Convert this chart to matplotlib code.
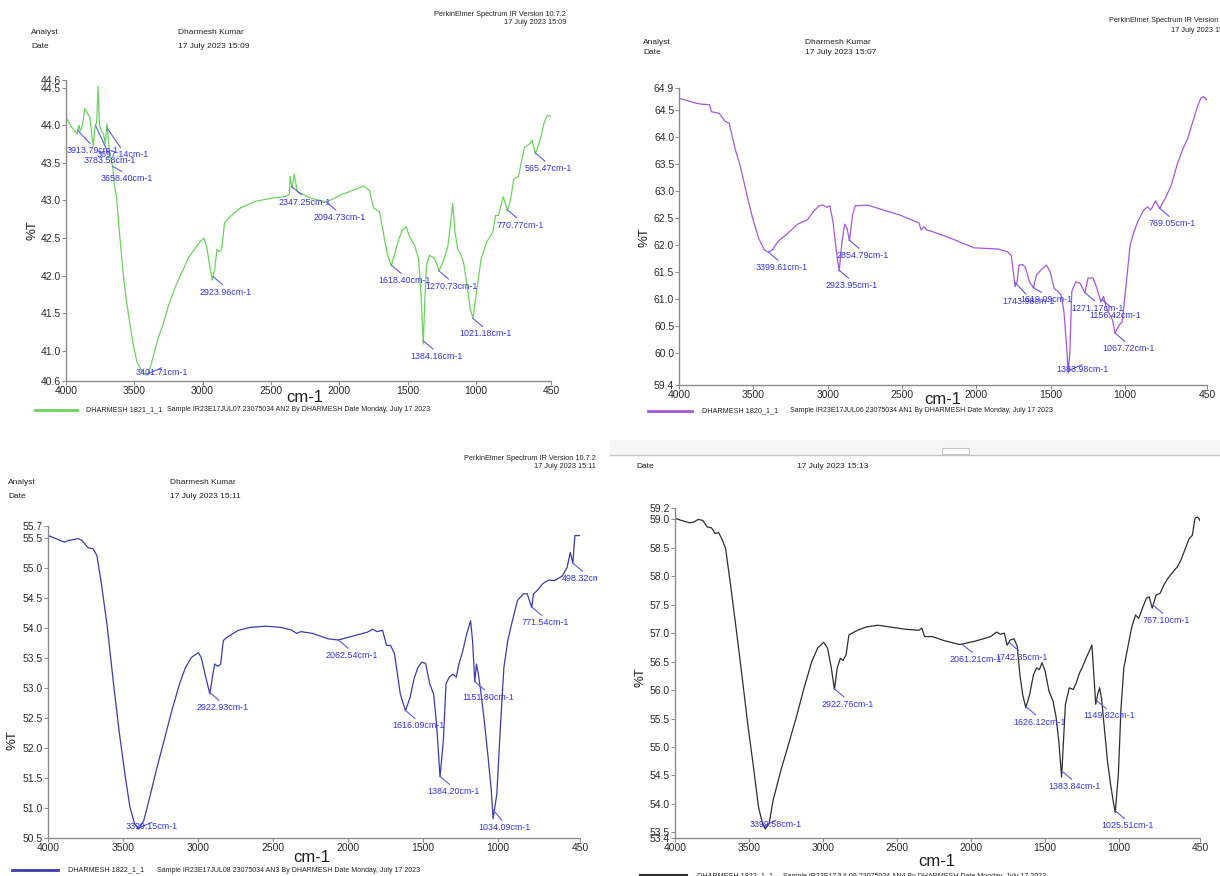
import numpy as np
import matplotlib.pyplot as plt
from matplotlib.lines import Line2D
from matplotlib.patches import Rectangle
from matplotlib.transforms import Bbox, TransformedBbox

plt.rcParams['font.family'] = ['Liberation Sans Narrow', 'Liberation Sans', 'DejaVu Sans']

W, H = 1220, 876

xticks = [4000, 3500, 3000, 2500, 2000, 1500, 1000, 450]

# sample AN2 (1821)
wn1 = [4000, 3960, 3920, 3905, 3895, 3880, 3862, 3840, 3825, 3810, 3800, 3790, 3775, 3765,
       3755, 3740, 3725, 3713, 3700, 3690, 3680, 3665, 3658, 3645, 3630, 3615, 3600, 3580,
       3560, 3540, 3510, 3480, 3450, 3430, 3410, 3400, 3380, 3350, 3320, 3290, 3250, 3200,
       3150, 3100, 3060, 3020, 2990, 2970, 2950, 2930, 2910, 2895, 2880, 2860, 2840, 2800,
       2724, 2608, 2495, 2400, 2365, 2360, 2345, 2330, 2308, 2208, 2093, 1978, 1864, 1821,
       1778, 1749, 1706, 1680, 1650, 1620, 1600, 1570, 1540, 1511, 1480, 1448, 1419, 1400,
       1385, 1375, 1362, 1340, 1310, 1290, 1270, 1250, 1232, 1204, 1185, 1170, 1153, 1133,
       1118, 1090, 1067, 1040, 1021, 1000, 962, 920, 876, 856, 834, 800, 768, 744, 723,
       688, 645, 608, 589, 564, 530, 502, 478, 450]
t1 = [44.10, 43.98, 43.88, 44.00, 43.92, 44.00, 44.22, 44.15, 44.10, 43.85, 43.72, 43.95,
      44.05, 44.52, 44.00, 43.92, 43.88, 43.75, 44.02, 43.80, 43.60, 43.50, 43.45, 43.20,
      43.05, 42.70, 42.40, 42.00, 41.70, 41.45, 41.10, 40.85, 40.75, 40.70, 40.68, 40.70,
      40.80, 41.00, 41.20, 41.35, 41.60, 41.85, 42.05, 42.25, 42.35, 42.45, 42.50, 42.38,
      42.15, 41.94, 42.10, 42.35, 42.32, 42.35, 42.70, 42.78, 42.90, 42.99, 43.03, 43.05,
      43.08, 43.32, 43.16, 43.35, 43.12, 43.03, 42.98, 43.08, 43.16, 43.19, 43.13, 42.90,
      42.85, 42.60, 42.30, 42.13, 42.25, 42.45, 42.60, 42.65, 42.50, 42.40, 42.22, 41.70,
      41.09, 41.60, 42.13, 42.27, 42.24, 42.18, 42.06, 42.15, 42.22, 42.40, 42.70, 42.96,
      42.58, 42.36, 42.31, 42.18, 41.90, 41.55, 41.43, 41.72, 42.22, 42.45, 42.58, 42.80,
      42.80, 43.05, 42.86, 43.03, 43.28, 43.32, 43.70, 43.75, 43.80, 43.62, 43.80, 44.02,
      44.13, 44.12]
peaks1 = ['3913.79', '3783.58', '3697.14', '3658.40', '3401.71', '2923.96', '2347.25',
          '2094.73', '1618.40', '1384.16', '1270.73', '1021.18', '770.77', '565.47']

# sample AN1 (1820)
wn2 = [4000, 3887, 3847, 3795, 3781, 3729, 3689, 3663, 3623, 3584, 3544, 3505, 3465, 3426,
       3400, 3373, 3334, 3281, 3202, 3136, 3097, 3057, 3031, 3005, 2986, 2965, 2939, 2923,
       2904, 2886, 2870, 2854, 2833, 2815, 2729, 2649, 2517, 2386, 2372, 2354, 2333, 2306,
       2175, 2017, 1859, 1793, 1766, 1740, 1727, 1714, 1688, 1669, 1643, 1617, 1596, 1556,
       1530, 1504, 1478, 1452, 1431, 1412, 1393, 1383, 1372, 1359, 1333, 1302, 1281, 1271,
       1250, 1216, 1190, 1164, 1146, 1125, 1085, 1068, 1041, 1020, 994, 967, 941, 915, 875,
       849, 828, 796, 770, 730, 690, 651, 611, 579, 545, 518, 492, 473, 450]
t2 = [64.71, 64.62, 64.60, 64.59, 64.46, 64.43, 64.28, 64.25, 63.78, 63.41, 62.92, 62.49,
      62.12, 61.90, 61.86, 61.90, 62.06, 62.18, 62.38, 62.46, 62.61, 62.72, 62.73, 62.69,
      62.72, 62.43, 61.81, 61.51, 62.06, 62.38, 62.30, 62.07, 62.55, 62.72, 62.73, 62.66,
      62.55, 62.40, 62.27, 62.33, 62.27, 62.25, 62.12, 61.94, 61.92, 61.87, 61.80, 61.22,
      61.31, 61.62, 61.63, 61.56, 61.31, 61.20, 61.44, 61.56, 61.62, 61.50, 61.19, 61.13,
      61.07, 60.76, 60.08, 59.62, 60.02, 61.13, 61.31, 61.28, 61.16, 61.11, 61.38, 61.38,
      61.19, 60.94, 61.04, 60.82, 60.60, 60.36, 60.51, 60.57, 61.25, 61.99, 62.24, 62.43,
      62.64, 62.70, 62.64, 62.81, 62.67, 62.86, 63.10, 63.48, 63.78, 63.97, 64.28, 64.52,
      64.71, 64.74, 64.68]
peaks2 = ['3399.61', '2923.95', '2854.79', '1743.98', '1619.09', '1383.98', '1271.17',
          '1156.42', '1067.72', '769.05']

# sample AN3 (1822)
wn3 = [4000, 3956, 3890, 3864, 3838, 3799, 3773, 3734, 3700, 3674, 3643, 3604, 3565, 3526,
       3487, 3453, 3421, 3395, 3361, 3330, 3278, 3226, 3174, 3122, 3083, 3043, 2997, 2978,
       2952, 2920, 2900, 2887, 2866, 2848, 2830, 2809, 2731, 2652, 2548, 2444, 2379, 2340,
       2313, 2235, 2131, 2062, 1975, 1870, 1831, 1806, 1767, 1741, 1714, 1688, 1649, 1615,
       1584, 1558, 1532, 1506, 1480, 1453, 1427, 1407, 1384, 1362, 1344, 1323, 1297, 1276,
       1258, 1232, 1206, 1180, 1167, 1152, 1141, 1128, 1110, 1089, 1063, 1042, 1030, 1005,
       984, 958, 932, 906, 867, 828, 802, 772, 760, 737, 698, 658, 619, 567, 536, 515, 498,
       484, 450]
t3 = [55.54, 55.50, 55.43, 55.46, 55.47, 55.49, 55.46, 55.34, 55.32, 55.21, 54.73, 54.01,
      53.12, 52.29, 51.57, 51.01, 50.73, 50.65, 50.79, 51.09, 51.62, 52.12, 52.62, 53.07,
      53.34, 53.51, 53.59, 53.51, 53.23, 52.90, 53.23, 53.40, 53.36, 53.40, 53.79, 53.84,
      53.96, 54.01, 54.03, 54.01, 53.97, 53.91, 53.94, 53.91, 53.82, 53.80, 53.86, 53.93,
      53.98, 53.94, 53.96, 53.71, 53.71, 53.57, 52.90, 52.62, 52.84, 53.15, 53.34, 53.43,
      53.41, 53.07, 52.90, 52.40, 51.52, 52.12, 53.07, 53.18, 53.23, 53.18, 53.40, 53.62,
      53.90, 54.12, 53.79, 53.10, 53.40, 53.23, 52.90, 52.46, 51.84, 51.29, 50.82, 51.23,
      52.23, 53.34, 53.79, 54.07, 54.46, 54.57, 54.57, 54.34, 54.57, 54.62, 54.74, 54.80,
      54.79, 54.87, 55.01, 55.26, 55.08, 55.54, 55.54]
peaks3 = ['3399.15', '2922.93', '2062.54', '1616.09', '1384.20', '1151.80', '1034.09',
          '771.54', '498.32']

# sample AN4 (1823)
wn4 = [4000, 3955, 3903, 3876, 3842, 3811, 3784, 3753, 3727, 3705, 3679, 3658, 3627, 3587,
       3548, 3508, 3469, 3435, 3408, 3390, 3364, 3337, 3285, 3232, 3180, 3127, 3074, 3035,
       2995, 2969, 2943, 2922, 2903, 2882, 2864, 2843, 2824, 2759, 2706, 2627, 2549, 2444,
       2352, 2331, 2312, 2260, 2181, 2075, 1970, 1865, 1826, 1799, 1773, 1754, 1733, 1707,
       1686, 1668, 1649, 1628, 1602, 1576, 1555, 1536, 1518, 1497, 1471, 1444, 1423, 1405,
       1386, 1373, 1360, 1334, 1307, 1286, 1265, 1247, 1221, 1194, 1181, 1168, 1155, 1142,
       1129, 1116, 1097, 1076, 1055, 1034, 1023, 1002, 984, 965, 939, 913, 886, 865, 839,
       813, 794, 773, 747, 720, 694, 668, 641, 602, 575, 549, 523, 502, 484, 465, 450]
t4 = [59.02, 58.98, 58.94, 58.95, 59.00, 58.98, 58.87, 58.85, 58.75, 58.77, 58.63, 58.49,
      57.90, 57.09, 56.27, 55.40, 54.64, 53.94, 53.65, 53.56, 53.65, 54.06, 54.58, 55.05,
      55.52, 56.04, 56.51, 56.74, 56.84, 56.74, 56.39, 56.01, 56.39, 56.56, 56.52, 56.62,
      56.97, 57.06, 57.11, 57.14, 57.11, 57.07, 57.05, 57.09, 56.94, 56.94, 56.87, 56.80,
      56.86, 56.94, 57.02, 56.98, 57.00, 56.79, 56.88, 56.90, 56.77, 56.27, 55.92, 55.69,
      55.92, 56.27, 56.39, 56.36, 56.48, 56.33, 55.98, 55.81, 55.52, 55.11, 54.47, 55.11,
      55.75, 56.04, 56.01, 56.13, 56.30, 56.39, 56.56, 56.71, 56.79, 56.27, 55.75, 55.92,
      56.04, 55.86, 55.34, 54.76, 54.35, 54.00, 53.85, 54.52, 55.69, 56.39, 56.74, 57.09,
      57.32, 57.26, 57.44, 57.61, 57.64, 57.44, 57.67, 57.70, 57.85, 57.96, 58.05, 58.17,
      58.31, 58.49, 58.66, 58.72, 59.02, 59.04, 58.98]
peaks4 = ['3399.58', '2922.76', '2061.21', '1742.35', '1626.12', '1383.84', '1149.82',
          '1025.51', '767.10']

yt1 = [40.6, 41.0, 41.5, 42.0, 42.5, 43.0, 43.5, 44.0, 44.5, 44.6]
yt2 = [59.4, 60.0, 60.5, 61.0, 61.5, 62.0, 62.5, 63.0, 63.5, 64.0, 64.5, 64.9]
yt3 = [50.5, 51.0, 51.5, 52.0, 52.5, 53.0, 53.5, 54.0, 54.5, 55.0, 55.5, 55.7]
yt4 = [53.4, 53.5, 54.0, 54.5, 55.0, 55.5, 56.0, 56.5, 57.0, 57.5, 58.0, 58.5, 59.0, 59.2]

fig = plt.figure(figsize=(12.2, 8.76), dpi=100)


def fx(x):
    return x / W


def fy(y):
    return 1 - y / H


def panel(box, wn, t, color, yt, peaks, offs, clip_x=None):
    l, tp, r, b = box
    ax = fig.add_axes([fx(l), fy(b), (r - l) / W, (b - tp) / H])
    ax.patch.set_alpha(0)
    ax.plot(wn, t, color=color, lw=0.9)
    ax.set_xlim(4000, 450)
    ax.set_ylim(yt[0], yt[-1])
    ax.set_xticks(xticks)
    ax.set_xticklabels([str(x) for x in xticks])
    ax.set_yticks(yt)
    ax.set_yticklabels(['%.1f' % v for v in yt])
    for s in ['top', 'right']:
        ax.spines[s].set_visible(False)
    for s in ['left', 'bottom']:
        ax.spines[s].set_color('#8a8a8a')
        ax.spines[s].set_linewidth(1.0)
    ax.tick_params(length=3, width=0.7, color='#8a8a8a', labelsize=7.5, pad=0.5,
                   labelcolor='#2a2a2a')
    wr = np.array(wn, dtype=float)[::-1]
    tr = np.array(t, dtype=float)[::-1]
    for lab in peaks:
        w = float(lab)
        v = np.interp(w, wr, tr)
        dx, dy = offs.get(lab, (13, -11))
        a = ax.annotate(lab + 'cm-1', xy=(w, v), xytext=(dx, dy), textcoords='offset pixels',
                        ha='center', va='top', fontsize=6.4, color='#3232f2',
                        family=['Liberation Sans', 'DejaVu Sans'],
                        arrowprops=dict(arrowstyle='-', color='#5a5af0', lw=0.8,
                                        shrinkA=0, shrinkB=0, relpos=(0.5, 1.0)),
                        annotation_clip=False)
        if clip_x is not None:
            a.set_clip_on(True)
            a.set_clip_box(TransformedBbox(Bbox.from_extents(0, 0, fx(clip_x), 1),
                                           fig.transFigure))
    return ax


def header(x0, x1, y_an, y_dt, who, when, pe_x, pe_y, pe_ha='right'):
    if who:
        fig.text(fx(x0), fy(y_an), 'Analyst', fontsize=6, va='center', color='#222')
        fig.text(fx(x1), fy(y_an), who, fontsize=6, va='center', color='#222')
    fig.text(fx(x0), fy(y_dt), 'Date', fontsize=6, va='center', color='#222')
    fig.text(fx(x1), fy(y_dt), when, fontsize=6, va='center', color='#222')
    if pe_x is not None:
        fig.text(fx(pe_x), fy(pe_y), 'PerkinElmer Spectrum IR Version 10.7.2', fontsize=5.3,
                 ha=pe_ha, va='center', color='#222')
        fig.text(fx(pe_x) + (0 if pe_ha == 'right' else 0.051), fy(pe_y + 9), when,
                 fontsize=5.3, ha=pe_ha, va='center', color='#222')


def legend_row(y, x0, x1, xt, xs, color, lw, name, sample):
    fig.add_artist(Line2D([fx(x0), fx(x1)], [fy(y), fy(y)], transform=fig.transFigure,
                          color=color, lw=lw))
    fig.text(fx(xt), fy(y), name, fontsize=5.2, va='center', color='#222')
    fig.text(fx(xs), fy(y), sample, fontsize=5.0, va='center', color='#222')


def axis_labels(xc, yc, xl, yl):
    fig.text(fx(xc), fy(yc), 'cm-1', fontsize=12, ha='center', va='center', color='#222')
    fig.text(fx(xl), fy(yl), '%T', fontsize=9.5, ha='center', va='center', rotation=90,
             color='#222')


# top left
panel((66, 80, 551, 381), wn1, t1, '#6bd35c', yt1, peaks1,
      {'3913.79': (15, -16), '3783.58': (14, -30), '3697.14': (15, -22),
       '3658.40': (14, -8), '3401.71': (14, 6)})
header(31, 178, 33, 47, 'Dharmesh Kumar', '17 July 2023 15:09', 566, 14)
axis_labels(305, 398, 33, 230)
legend_row(410, 35, 77, 86, 167, '#6bd35c', 2,
           'DHARMESH 1821_1_1',
           'Sample IR23E17JUL07 23075034 AN2 By DHARMESH Date Monday, July 17 2023')

# top right
panel((679, 88, 1207, 385), wn2, t2, '#a457df', yt2, peaks2,
      {'1743.98': (14, -15), '1619.09': (13, -8), '1383.98': (14, 6)})
header(643, 805, 42, 53, 'Dharmesh Kumar', '17 July 2023 15:07', 1109, 21, pe_ha='left')
axis_labels(943, 400, 645, 237)
legend_row(411, 648, 692, 702, 790, '#a457df', 2,
           'DHARMESH 1820_1_1',
           'Sample IR23E17JUL06 23075034 AN1 By DHARMESH Date Monday, July 17 2023')

# bottom left
panel((48, 526, 580, 838), wn3, t3, '#3c3cab', yt3, peaks3,
      {'3399.15': (14, 6), '1034.09': (12, -14)}, clip_x=597)
header(8, 170, 483, 497, 'Dharmesh Kumar', '17 July 2023 15:11', 596, 458)
axis_labels(312, 858, 12, 740)
legend_row(870, 12, 58, 68, 157, '#3c3cab', 2,
           'DHARMESH 1822_1_1',
           'Sample IR23E17JUL08 23075034 AN3 By DHARMESH Date Monday, July 17 2023')

# bottom right
fig.add_artist(Rectangle((fx(610), fy(455)), fx(610), 15 / H, transform=fig.transFigure,
                         facecolor='#f6f6f6', edgecolor='none'))
fig.add_artist(Line2D([fx(610), fx(1220)], [fy(455), fy(455)], transform=fig.transFigure,
                      color='#c4c4c4', lw=1))
fig.add_artist(Rectangle((fx(942), fy(454)), 27 / W, 6 / H, transform=fig.transFigure,
                         facecolor='white', edgecolor='#c4c4c4', lw=0.8))
panel((675, 508, 1200, 838), wn4, t4, '#2e2e2e', yt4, peaks4,
      {'3399.58': (12, 6), '2061.21': (14, -11), '1742.35': (13, -11)})
header(636, 797, None, 466, None, '17 July 2023 15:13', None, None)
axis_labels(937, 861, 640, 677)
legend_row(876, 641, 686, 697, 783, '#2e2e2e', 3,
           'DHARMESH 1823_1_1',
           'Sample IR23E17JUL09 23075034 AN4 By DHARMESH Date Monday, July 17 2023')

fig.savefig('out.png', dpi=100, facecolor='white')
